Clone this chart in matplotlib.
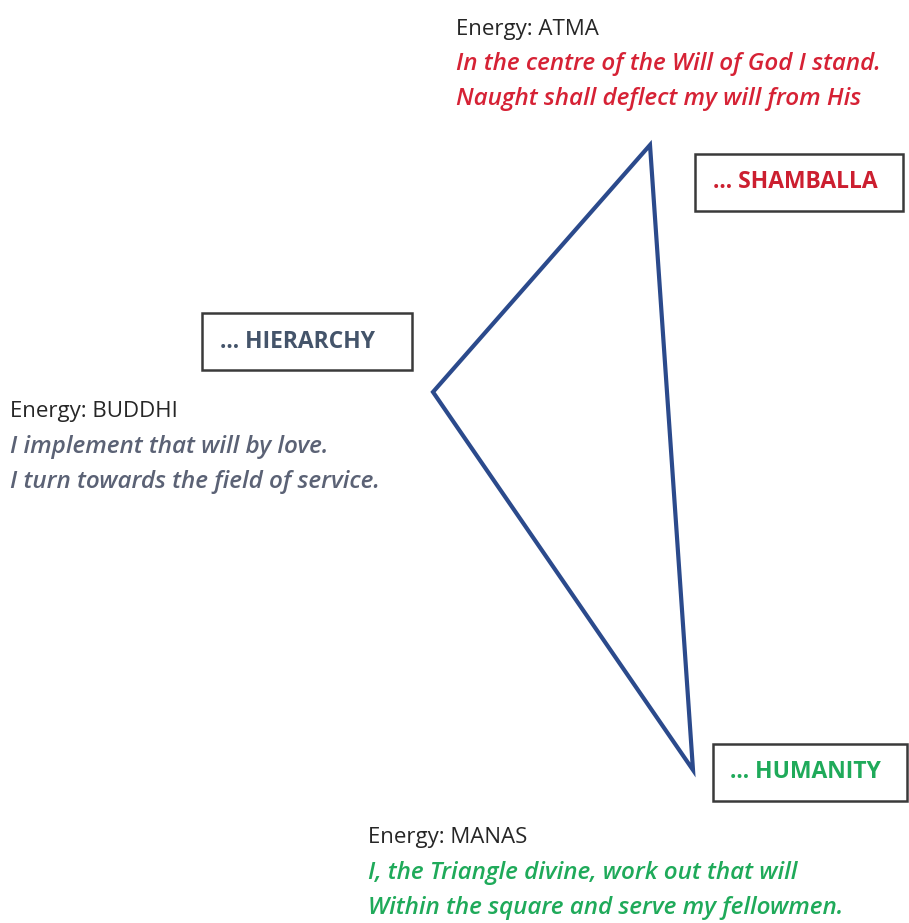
import matplotlib.pyplot as plt
from matplotlib.patches import Rectangle, Polygon

# triangle vertices (pixel coords of the picture)
tri_x = [650, 433, 693]
tri_y = [145, 392, 770]

box_labels = ["... SHAMBALLA", "... HIERARCHY", "... HUMANITY"]
box_x = [695, 202, 713]
box_y = [154, 313, 744]
box_w = [208, 210, 194]
box_h = [57, 57, 57]
label_x = [713, 220, 730]
box_colors = ["#cc1f30", "#44546a", "#1faa5a"]

energy_labels = ["Energy: ATMA", "Energy: BUDDHI", "Energy: MANAS"]
energy_x = [456, 10, 368]
energy_y = [29, 412, 838]
verse_lines = [
    ["In the centre of the Will of God I stand.", "Naught shall deflect my will from His"],
    ["I implement that will by love.", "I turn towards the field of service."],
    ["I, the Triangle divine, work out that will", "Within the square and serve my fellowmen."],
]
verse_colors = ["#d62235", "#5b6275", "#1faa5a"]

plt.rcParams['font.family'] = ['Open Sans', 'DejaVu Sans']

fig = plt.figure(figsize=(9.09, 9.23), dpi=100)
ax = fig.add_axes([0, 0, 1, 1])
ax.set_xlim(0, 909)
ax.set_ylim(923, 0)
ax.axis('off')

ax.add_patch(Polygon(list(zip(tri_x, tri_y)), closed=True, fill=False,
                     edgecolor="#2b4a8c", linewidth=3, joinstyle='miter'))

for lab, x, y, w, h, lx, c in zip(box_labels, box_x, box_y, box_w, box_h, label_x, box_colors):
    ax.add_patch(Rectangle((x, y), w, h, fill=False, edgecolor="#3a3a3a", linewidth=1.8,
                           clip_on=False))
    ax.text(lx, y + h / 2, lab, color=c, fontsize=16.5, fontweight='bold',
            ha='left', va='center')

for lab, x, y, lines, c in zip(energy_labels, energy_x, energy_y, verse_lines, verse_colors):
    ax.text(x, y, lab, color="#262626", fontsize=16, ha='left', va='center')
    for i, line in enumerate(lines):
        ax.text(x, y + 35 * (i + 1), line, color=c, fontsize=17.5, style='italic',
                fontweight='semibold', ha='left', va='center')

fig.savefig("out.png", dpi=100, facecolor='white')
